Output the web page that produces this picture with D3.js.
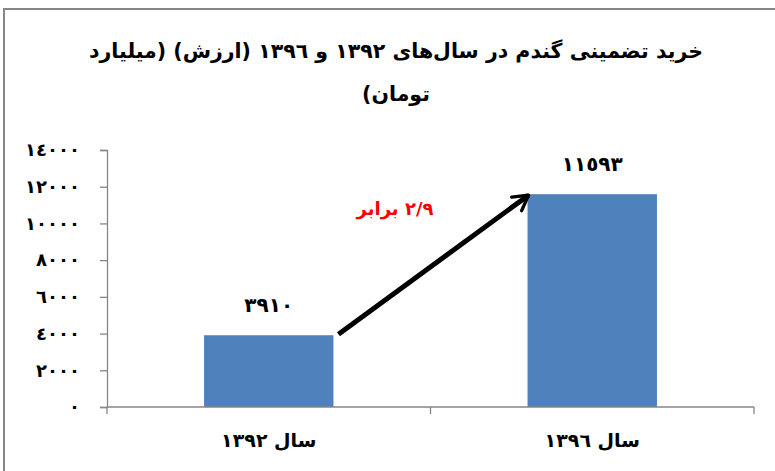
<!DOCTYPE html>
<html>
<head>
<meta charset="utf-8">
<script src="https://cdn.jsdelivr.net/npm/d3@7"></script>
<style>
  body { margin: 0; background: #fff; }
  svg { display: block; font-family: "DejaVu Sans", sans-serif; font-weight: bold; }
</style>
</head>
<body>
<svg id="chart" width="775" height="471"></svg>
<script>
'use strict';
const titleLines = ['خرید تضمینی گندم در سال‌های ۱۳۹۲ و ۱۳۹٦ (ارزش) (میلیارد', 'تومان)'];
const categories = ['سال ۱۳۹۲', 'سال ۱۳۹٦'];
const values = [3910, 11593];
const yTicks = [0, 2000, 4000, 6000, 8000, 10000, 12000, 14000];
const ratioLabel = '٢/٩ برابر';

// western digits -> arabic-indic
const ar = s => String(s).replace(/[0-9]/g, d => '٠١٢٣٤٥٦٧٨٩'[+d]);

const svg = d3.select('#chart');
const grey = '#868686';

// outer frame (runs off the right/bottom like the original crop)
svg.append('rect').attr('x', 4).attr('y', 9).attr('width', 800).attr('height', 600)
  .attr('fill', 'none').attr('stroke', grey).attr('stroke-width', 2);

const x = d3.scaleBand().domain(categories).range([107, 754]).paddingInner(0.6).paddingOuter(0.3);
const y = d3.scaleLinear().domain([0, 14000]).range([407, 150]);

// title
svg.append('g').selectAll('text').data(titleLines).join('text')
  .attr('x', 396).attr('y', (d, i) => 58 + i * 43)
  .attr('text-anchor', 'middle').attr('direction', 'rtl')
  .attr('font-size', 20.5).attr('fill', '#000').text(d => d);

// y axis
const yAxis = svg.append('g').attr('transform', 'translate(107,0)')
  .call(d3.axisLeft(y).tickValues(yTicks).tickSize(7).tickPadding(20).tickFormat(d => ar(d)));
yAxis.select('.domain').attr('stroke', grey).attr('stroke-width', 1.3);
yAxis.selectAll('.tick line').attr('stroke', grey).attr('stroke-width', 1.3);
yAxis.selectAll('.tick text').attr('font-size', 18).attr('font-family', '"DejaVu Sans", sans-serif')
  .attr('font-weight', 'bold').attr('fill', '#000');

// bars
svg.append('g').selectAll('rect').data(values).join('rect')
  .attr('x', (d, i) => x(categories[i])).attr('width', x.bandwidth())
  .attr('y', d => y(d)).attr('height', d => y(0) - y(d))
  .attr('fill', '#4f81bd');

// x axis line with ticks at category boundaries
const x0 = x.range()[0], x1 = x.range()[1];
const gx = svg.append('g');
gx.append('line').attr('x1', x0).attr('x2', x1).attr('y1', y(0)).attr('y2', y(0))
  .attr('stroke', grey).attr('stroke-width', 1.3);
gx.selectAll('.b').data(d3.range(categories.length + 1)).join('line').attr('class', 'b')
  .attr('x1', i => x0 + i * x.step()).attr('x2', i => x0 + i * x.step())
  .attr('y1', y(0)).attr('y2', y(0) + 7).attr('stroke', grey).attr('stroke-width', 1.3);
gx.selectAll('text').data(categories).join('text')
  .attr('x', d => x(d) + x.bandwidth() / 2).attr('y', 447)
  .attr('text-anchor', 'middle').attr('direction', 'rtl')
  .attr('font-size', 19).attr('fill', '#000').text(d => d);

// value labels
svg.append('g').selectAll('text').data(values).join('text')
  .attr('x', (d, i) => x(categories[i]) + x.bandwidth() / 2).attr('y', d => y(d) - 23)
  .attr('text-anchor', 'middle').attr('font-size', 20).attr('fill', '#000')
  .text(d => ar(d));

// growth arrow from top of first bar to top of second
svg.append('defs').append('marker').attr('id', 'head')
  .attr('viewBox', '0 0 10 10').attr('refX', 8).attr('refY', 5)
  .attr('markerWidth', 4.2).attr('markerHeight', 4.2).attr('orient', 'auto')
  .append('path').attr('d', 'M1,1 L8,5 L1,9').attr('fill', 'none')
  .attr('stroke', '#000').attr('stroke-width', 1.6).attr('stroke-linecap', 'round').attr('stroke-linejoin', 'round');

const ax1 = x(categories[0]) + x.bandwidth() + 5, ay1 = y(values[0]) - 1;
const ax2 = x(categories[1]) + 1, ay2 = y(values[1]) + 1;
svg.append('line').attr('x1', ax1).attr('y1', ay1).attr('x2', ax2).attr('y2', ay2)
  .attr('stroke', '#000').attr('stroke-width', 5).attr('marker-end', 'url(#head)');

svg.append('text').attr('x', 395).attr('y', 215)
  .attr('text-anchor', 'middle').attr('direction', 'rtl')
  .attr('font-size', 18).attr('fill', '#ff0000').text(ratioLabel);
</script>
</body>
</html>
